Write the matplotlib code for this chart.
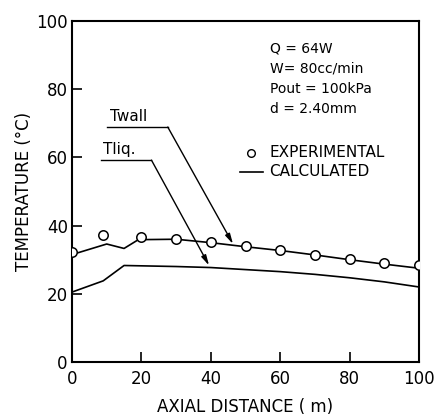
import numpy as np
import matplotlib
matplotlib.use("Agg")
import matplotlib.pyplot as plt

# ── Data ────────────────────────────────────────────────────────────
exp_x = [0, 9, 20, 30, 40, 50, 60, 70, 80, 90, 100]
exp_y = [32.2, 37.2, 36.8, 36.1, 35.2, 34.0, 32.8, 31.5, 30.1, 29.0, 28.3]

wall_x = [0, 10, 15, 19, 21.5, 30, 40, 50, 60, 70, 80, 90, 100]
wall_y = [31.5, 34.6, 33.3, 35.8, 35.9, 36.0, 35.0, 33.8, 32.7, 31.4, 30.0, 28.7, 27.5]

liq_x = [0, 9, 15, 30, 40, 50, 60, 70, 80, 90, 100]
liq_y = [20.5, 23.8, 28.3, 28.0, 27.7, 27.1, 26.5, 25.7, 24.7, 23.5, 22.0]

ticks = [0, 20, 40, 60, 80, 100]
conditions = ["Q = 64W", "W= 80cc/min", "Pout = 100kPa", "d = 2.40mm"]

plt.rcParams['font.family'] = ['DejaVu Sans']

fig = plt.figure(figsize=(4.38, 4.17), dpi=100)
ax = fig.add_axes([72 / 438, 1 - 362 / 417, (419 - 72) / 438, (362 - 21) / 417])

ax.plot(liq_x, liq_y, color='k', lw=1.2, zorder=2)
ax.plot(wall_x, wall_y, color='k', lw=1.2, zorder=2)
ax.plot(exp_x, exp_y, 'o', mfc='white', mec='k', mew=1.1, ms=6.8, zorder=3)

ax.set_xlim(0, 100)
ax.set_ylim(0, 100)
ax.set_xticks(ticks)
ax.set_yticks(ticks)
ax.tick_params(direction='in', length=7, width=1.2, labelsize=12)
ax.tick_params(axis='x', pad=6)
ax.tick_params(axis='y', pad=3)
for s in ax.spines.values():
    s.set_linewidth(1.5)

ax.set_xlabel('AXIAL DISTANCE ( m)', fontsize=12, labelpad=7)
ax.set_ylabel('TEMPERATURE (°C)', fontsize=12, labelpad=2.5)

# condition block
for i, t in enumerate(conditions):
    ax.text(57, 92 - i * 5.9, t, fontsize=10, va='center', ha='left')

# legend (drawn by hand like the original)
ax.plot([51.7], [61.4], 'o', mfc='white', mec='k', mew=1.0, ms=5.5)
ax.text(56.8, 61.4, 'EXPERIMENTAL', fontsize=11, va='center')
ax.plot([48.3, 55.0], [55.8, 55.8], color='k', lw=1.2)
ax.text(56.8, 55.8, 'CALCULATED', fontsize=11, va='center')

# labelled leaders
arrow = dict(arrowstyle='-|>,head_length=0.6,head_width=0.15', color='k', lw=1.0,
             shrinkA=0, shrinkB=0)
ax.plot([10, 27.6], [68.9, 68.9], color='k', lw=1.0)
ax.text(11, 69.8, 'Twall', fontsize=11, va='bottom')
ax.annotate('', xy=(46.4, 34.6), xytext=(27.6, 68.9), arrowprops=arrow)

ax.plot([8.3, 22.9], [59.2, 59.2], color='k', lw=1.0)
ax.text(9, 60.1, 'Tliq.', fontsize=11, va='bottom')
ax.annotate('', xy=(39.5, 28.3), xytext=(22.9, 59.2), arrowprops=arrow)

fig.savefig('out.png', dpi=100)
